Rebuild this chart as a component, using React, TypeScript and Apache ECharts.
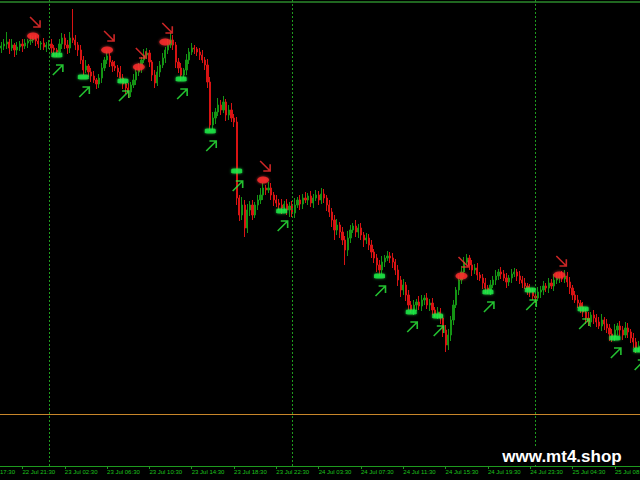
import React, { useEffect, useRef } from "react";
import * as echarts from "echarts";

// Price levels (arbitrary points, higher = up) for each M15 bar
const firstOpen = 452;
const closes = [
  454, 456, 458, 452, 455, 450, 453, 456, 454, 457,
  459, 460, 461, 459, 456, 457, 453, 455, 456, 452,
  450, 448, 456, 462, 455, 452, 462, 460, 455, 450,
  440, 430, 434, 428, 424, 420, 416, 422, 432, 440,
  444, 438, 434, 432, 428, 422, 416, 412, 408, 415,
  420, 428, 432, 440, 445, 447, 438, 425, 417, 428,
  435, 442, 450, 455, 460, 455, 438, 432, 425, 430,
  440, 448, 452, 451, 448, 445, 440, 435, 418, 375,
  382, 388, 395, 390, 398, 385, 390, 382, 378, 302,
  285, 295, 272, 290, 295, 285, 295, 300, 305, 312,
  310, 312, 305, 300, 297, 295, 292, 296, 290, 294,
  287, 295, 300, 296, 302, 300, 304, 297, 302, 305,
  300, 306, 302, 295, 288, 280, 270, 275, 268, 260,
  250, 262, 270, 274, 268, 272, 265, 260, 262, 255,
  248, 242, 235, 230, 238, 242, 244, 242, 238, 230,
  220, 210, 215, 205, 195, 190, 195, 198, 194, 200,
  202, 195, 197, 190, 186, 188, 182, 170, 155, 165,
  180, 195, 210, 220, 228, 238, 242, 235, 230, 232,
  225, 222, 217, 212, 210, 215, 220, 224, 228, 226,
  222, 218, 222, 226, 228, 224, 220, 217, 214, 211,
  208, 204, 202, 208, 210, 214, 212, 217, 214, 220,
  222, 224, 221, 224, 218, 212, 205, 200, 197, 193,
  188, 182, 178, 185, 182, 178, 174, 180, 176, 172,
  166, 163, 170, 174, 170, 165, 172, 168, 162, 158,
  152, 154,
];
// Wick lengths above / below the body
const upperWicks = [
  4, 5, 10, 3, 6, 2, 5, 3, 5, 4, 2, 5, 3, 4, 6, 2, 5, 3, 4, 5,
  3, 2, 5, 5, 4, 5, 6, 29, 5, 3, 5, 4, 6, 2, 4, 5, 2, 4, 5, 3,
  5, 4, 2, 5, 3, 6, 4, 2, 5, 3, 6, 4, 5, 3, 6, 5, 3, 2, 5, 6,
  4, 5, 3, 6, 7, 5, 3, 4, 5, 2, 6, 4, 5, 3, 2, 4, 5, 3, 6, 5,
  6, 4, 7, 5, 6, 3, 5, 7, 4, 5, 3, 8, 5, 6, 4, 5, 3, 5, 7, 5,
  3, 6, 5, 3, 5, 4, 6, 3, 5, 4, 5, 7, 3, 5, 4, 6, 3, 5, 4, 5,
  4, 6, 5, 3, 5, 4, 5, 6, 3, 5, 4, 7, 5, 3, 6, 4, 5, 3, 5, 4,
  5, 3, 4, 5, 6, 3, 5, 4, 5, 3, 5, 4, 6, 3, 5, 4, 5, 3, 6, 5,
  3, 5, 4, 5, 3, 5, 4, 3, 5, 6, 4, 5, 3, 5, 6, 5, 4, 3, 5, 4,
  5, 3, 4, 5, 3, 5, 4, 6, 3, 5, 4, 5, 3, 5, 4, 3, 5, 4, 5, 3,
  5, 4, 3, 5, 4, 5, 3, 5, 4, 6, 5, 3, 5, 6, 4, 5, 3, 4, 5, 3,
  5, 4, 6, 3, 5, 4, 5, 6, 3, 5, 4, 5, 6, 3, 5, 4, 6, 5, 3, 5,
  4, 5,
];
const lowerWicks = [
  5, 4, 5, 6, 3, 7, 5, 4, 6, 3, 5, 4, 3, 5, 4, 6, 3, 5, 4, 5,
  6, 5, 3, 5, 4, 6, 5, 3, 5, 6, 4, 5, 3, 5, 6, 3, 5, 4, 5, 3,
  4, 5, 6, 3, 5, 4, 5, 6, 6, 5, 3, 5, 4, 5, 3, 4, 5, 6, 5, 3,
  5, 3, 5, 4, 3, 5, 6, 5, 6, 3, 5, 4, 3, 5, 4, 5, 3, 5, 6, 6,
  5, 6, 4, 5, 3, 6, 5, 4, 5, 7, 6, 5, 9, 5, 6, 5, 3, 5, 4, 5,
  5, 3, 5, 6, 4, 5, 6, 3, 5, 7, 4, 5, 3, 6, 5, 3, 5, 4, 5, 3,
  5, 4, 5, 6, 5, 7, 10, 5, 6, 5, 15, 6, 5, 3, 5, 6, 5, 7, 4, 5,
  6, 5, 7, 6, 4, 5, 3, 5, 6, 5, 6, 7, 5, 6, 5, 3, 5, 6, 4, 5,
  5, 4, 6, 5, 3, 5, 6, 7, 7, 5, 6, 5, 3, 5, 4, 5, 3, 5, 6, 4,
  5, 3, 6, 5, 4, 5, 3, 5, 4, 5, 3, 6, 4, 5, 3, 5, 4, 5, 3, 6,
  5, 4, 5, 3, 6, 5, 4, 5, 3, 5, 4, 5, 3, 4, 5, 6, 5, 3, 5, 6,
  5, 6, 4, 5, 6, 5, 3, 5, 6, 5, 7, 5, 4, 5, 6, 5, 3, 6, 5, 6,
  5, 4,
];

// Time-axis labels (one every 16 bars, starting at bar 8)
const labelStart = 8;
const labelEvery = 16;
const tickLabels = [
  "22 Jul 21:30", "23 Jul 02:30", "23 Jul 06:30", "23 Jul 10:30", "23 Jul 14:30",
  "23 Jul 18:30", "23 Jul 22:30", "24 Jul 03:30", "24 Jul 07:30", "24 Jul 11:30",
  "24 Jul 15:30", "24 Jul 19:30", "24 Jul 23:30", "25 Jul 04:30", "25 Jul 08:30",
];
const partialFirstLabel = "17:30";

// Day separators (bar index)
const daySeparators = [18, 110, 202];
// Horizontal levels
const orangeLevel = 86;
const greenLevel = 498;

// Signals
const sellIdx = [12, 40, 52, 62, 99, 174, 211];
const sellLvl = [464, 450, 433, 458, 320, 224, 225];
const buyIdx = [21, 31, 46, 68, 79, 89, 106, 143, 155, 165, 184, 200, 220, 232, 241];
const buyLvl = [445, 423, 419, 421, 369, 329, 289, 224, 188, 184, 208, 210, 191, 162, 150];

const GREEN_TXT = "#1cc21c";
const GRID_GREEN = "#1e9a1e";

export default function App() {
  const ref = useRef<HTMLDivElement>(null);
  useEffect(() => {
    const chart = echarts.init(ref.current!, null, { renderer: "svg" });
    const categories = closes.map((_, i) => String(i));
    const candles = closes.map((c, i) => {
      const o = i === 0 ? firstOpen : closes[i - 1];
      return [o, c, Math.min(o, c) - lowerWicks[i], Math.max(o, c) + upperWicks[i]];
    });
    const isTick = (i: number) => i >= labelStart && (i - labelStart) % labelEvery === 0;
    const sellData = sellIdx.map((x, k) => [x, sellLvl[k]]);
    const buyData = buyIdx.map((x, k) => [x, buyLvl[k]]);
    const ellipse = "path://M5,0 A5,5 0 1,1 5,10 A5,5 0 1,1 5,0 Z";
    const arrowDown = "path://M0,0 L8,8 M2.5,8 L8,8 L8,2.5";
    const arrowUp = "path://M0,8 L8,0 M2.5,0 L8,0 L8,5.5";

    chart.setOption({
      animation: false,
      backgroundColor: "#000000",
      grid: { left: 0, right: 0, top: 0, bottom: 14, outerBoundsMode: "none", containLabel: false },
      xAxis: {
        type: "category",
        data: categories,
        boundaryGap: true,
        axisLine: { lineStyle: { color: GRID_GREEN, width: 1 } },
        axisTick: {
          show: true,
          alignWithLabel: true,
          interval: (i: number) => isTick(i),
          length: 3,
          lineStyle: { color: GRID_GREEN },
        },
        axisLabel: {
          interval: (i: number) => isTick(i),
          formatter: (_v: string, i: number) => tickLabels[(i - labelStart) / labelEvery] ?? "",
          color: GREEN_TXT,
          fontSize: 6,
          fontFamily: "'Liberation Sans', Arial, sans-serif",
          align: "left",
          margin: 3,
          hideOverlap: false,
        },
        splitLine: { show: false },
      },
      yAxis: { type: "value", min: 34, max: 500, show: false, splitLine: { show: false } },
      series: [
        {
          type: "candlestick",
          data: candles,
          barWidth: "65%",
          emphasis: { disabled: true },
          itemStyle: {
            color: "#149414",
            color0: "#d81313",
            borderColor: "#149414",
            borderColor0: "#d81313",
            borderWidth: 1,
          },
          markLine: {
            silent: true,
            symbol: ["none", "none"],
            label: { show: false },
            emphasis: { disabled: true },
            data: [
              ...daySeparators.map((i) => ({
                xAxis: i,
                lineStyle: { color: GRID_GREEN, type: [2, 2], width: 1 },
              })),
              { yAxis: orangeLevel, lineStyle: { color: "#c8862a", type: "solid", width: 1.2 } },
              { yAxis: greenLevel, lineStyle: { color: "#2b8a2b", type: "solid", width: 1.5 } },
            ],
          },
        },
        {
          type: "scatter",
          data: sellData,
          symbol: ellipse,
          symbolSize: [12, 7],
          itemStyle: { color: "#ff2b2b", shadowBlur: 3, shadowColor: "rgba(255,60,60,0.8)" },
          z: 5,
        },
        {
          type: "scatter",
          data: sellData,
          symbol: arrowDown,
          symbolSize: 10,
          symbolOffset: [2, -14],
          itemStyle: { color: "rgba(0,0,0,0)", borderColor: "#ff3030", borderWidth: 1.6 },
          z: 5,
        },
        {
          type: "scatter",
          data: buyData,
          symbol: "roundRect",
          symbolSize: [11, 5],
          itemStyle: { color: "#1ff04a", shadowBlur: 3, shadowColor: "rgba(40,255,80,0.7)" },
          z: 5,
        },
        {
          type: "scatter",
          data: buyData,
          symbol: arrowUp,
          symbolSize: 10,
          symbolOffset: [1, 15],
          itemStyle: { color: "rgba(0,0,0,0)", borderColor: "#2cf03c", borderWidth: 1.6 },
          z: 5,
        },
      ],
      graphic: [
        {
          type: "rect",
          z: 50,
          shape: { x: 500, y: 446, width: 124, height: 19 },
          style: { fill: "#000000" },
        },
        {
          type: "text",
          z: 51,
          x: 562,
          y: 456,
          style: {
            text: "www.mt4.shop",
            fill: "#ffffff",
            font: "bold 17px 'Liberation Sans', Arial, sans-serif",
            align: "center",
            verticalAlign: "middle",
          },
        },
        {
          type: "text",
          z: 51,
          x: 0,
          y: 472,
          style: {
            text: partialFirstLabel,
            fill: GREEN_TXT,
            font: "6px 'Liberation Sans', Arial, sans-serif",
            verticalAlign: "middle",
          },
        },
      ],
    });
    return () => chart.dispose();
  }, []);
  return (
    <div
      ref={ref}
      style={{ position: "fixed", left: 0, top: 0, width: 640, height: 480, background: "#000" }}
    />
  );
}
